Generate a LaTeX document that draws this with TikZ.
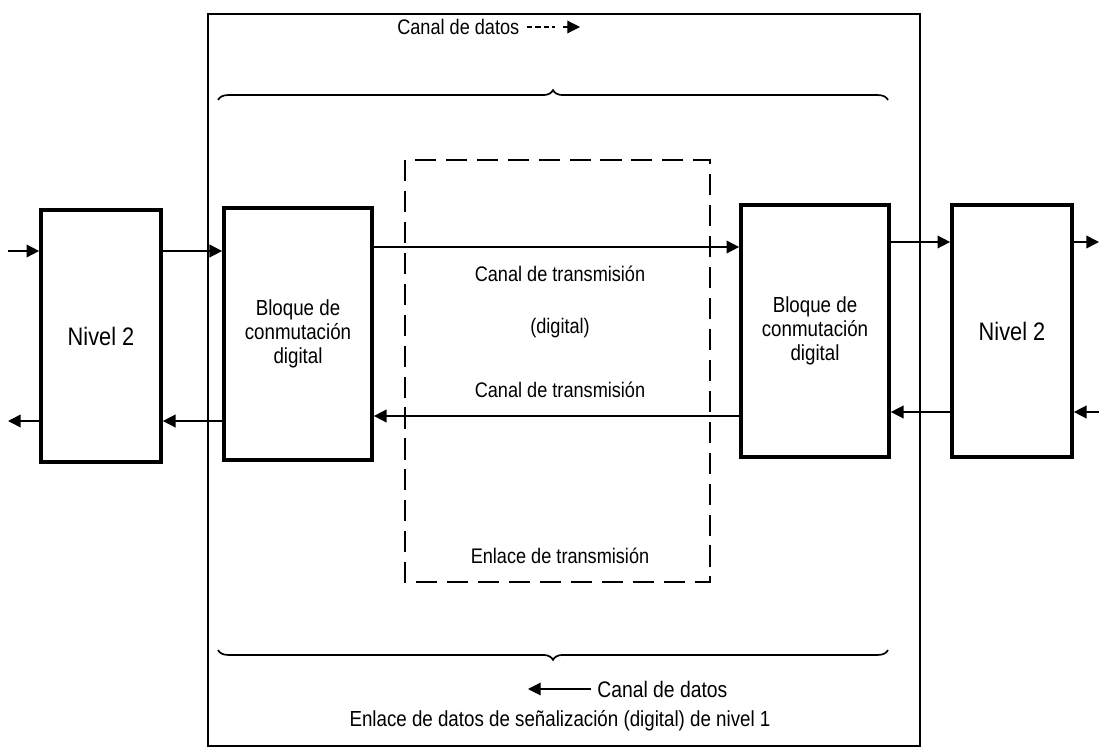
\documentclass[tikz,border=0pt]{standalone}
\usepackage{fontspec}
\setmainfont{Liberation Sans}[FakeStretch=0.86]
\usepackage{tikz}
\usetikzlibrary{arrows.meta, decorations.pathreplacing, positioning}

\tikzset{
  blk/.style={draw, line width=2.6pt, minimum width=3.7cm, minimum height=6.3cm, align=center, inner sep=0pt,
    font=\fontsize{15.5}{17}\selectfont},
  nivel/.style={blk, minimum width=3.0cm, font=\fontsize{18}{20}\selectfont},
  arr/.style={line width=1.1pt, -{Triangle[length=9pt, width=9pt]}},
  lbl/.style={inner sep=0pt, font=\fontsize{15}{17}\selectfont},
}

\begin{document}
\begin{tikzpicture}[x=0.025cm, y=-0.025cm]
\useasboundingbox (0,0) rectangle (1099,749);
% outer frame
\draw[line width=1pt] (208,14) rectangle (920,746);
% dashed link
\draw[line width=1pt, dash pattern=on 15pt off 7pt] (405,160) rectangle (710,582);

\node[nivel] (nl) at (101,336) {Nivel 2};
\node[blk] (bl) at (298,334) {Bloque de\\conmutación\\digital};
\node[blk] (br) at (815,331) {Bloque de\\conmutación\\digital};
\node[nivel] (nr) at (1012,331) {Nivel 2};

\coordinate (inl) at (8,251);
\coordinate (outl) at (8,421);
\coordinate (outr) at (1099,242);
\coordinate (inr) at (1099,412);

\draw[arr] (inl) -- (inl -| nl.west);
\draw[arr] (nl.east |- inl) -- (bl.west |- inl);
\draw[arr] (nl.west |- outl) -- (outl);
\draw[arr] (bl.west |- outl) -- (nl.east |- outl);
\draw[arr] (bl.east |- 0,247) -- (br.west |- 0,247);
\draw[arr] (br.west |- 0,416) -- (bl.east |- 0,416);
\draw[arr] (br.east |- outr) -- (nr.west |- outr);
\draw[arr] (nr.east |- outr) -- (outr);
\draw[arr] (nr.west |- inr) -- (br.east |- inr);
\draw[arr] (inr) -- (nr.east |- inr);

\node[lbl] (ct1) at (560,274) {Canal de transmisión};
\node[lbl] (dig) at (560,328) {(digital)};
\node[lbl] (ct2) at (560,390) {Canal de transmisión};
\node[lbl] (enl) at (560,556) {Enlace de transmisión};

% braces
\draw[line width=1.2pt, decorate, decoration={brace, amplitude=7pt}] (218,100) -- (888,100);
\draw[line width=1.2pt, decorate, decoration={brace, amplitude=7pt}] (888,650) -- (218,650);

\node[lbl, anchor=west] (cdt) at (397,27) {Canal de datos};
\coordinate (d1) at ([xshift=5pt]cdt.east);
\draw[line width=0.8pt, dash pattern=on 4pt off 2pt] (d1) -- ++(28,0) coordinate (d2);
\draw[line width=0.8pt, -{Triangle[length=9pt, width=9pt]}] ([xshift=6pt]d2) -- (580,27);

\node[lbl, anchor=west, font=\fontsize{16}{18}\selectfont] (cdb) at (597,689) {Canal de datos};
\draw[line width=0.8pt, -{Triangle[length=9pt, width=9pt]}] ([xshift=-4pt]cdb.west) -- (528,689);
\node[lbl, font=\fontsize{15.5}{17}\selectfont] (enld) at (560,721) {Enlace de datos de señalización (digital) de nivel 1};
\end{tikzpicture}
\end{document}
